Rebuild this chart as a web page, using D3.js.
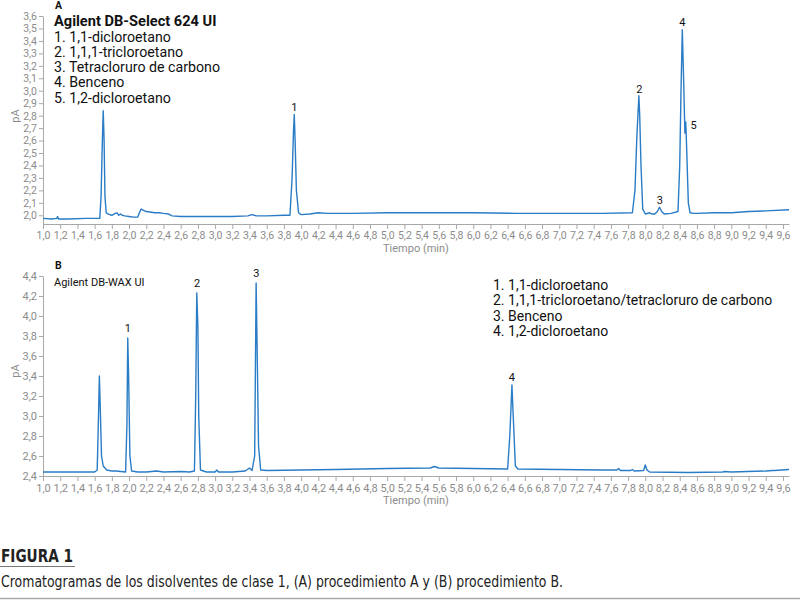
<!DOCTYPE html>
<html><head><meta charset="utf-8">
<script src="https://cdn.jsdelivr.net/npm/d3@7"></script>
<style>body{margin:0;background:#fff} svg{display:block}</style>
</head><body><svg id="c" width="800" height="600"></svg>
<script>
// ---------- Data: chromatogram A (DB-Select 624 UI) ----------
const timeA = [1.00,1.10,1.16,1.17,1.18,1.30,1.50,1.66,1.675,1.69,1.70,1.71,1.72,1.735,1.76,1.80,1.84,1.86,1.88,1.90,1.92,1.95,2.00,2.05,2.10,2.12,2.14,2.17,2.20,2.30,2.35,2.40,2.46,2.50,2.60,2.70,2.80,3.00,3.20,3.38,3.43,3.48,3.60,3.80,3.87,3.895,3.91,3.92,3.93,3.945,3.97,4.00,4.10,4.20,4.30,4.60,5.00,5.50,6.00,6.50,7.00,7.50,7.85,7.88,7.90,7.925,7.935,7.95,7.97,8.00,8.05,8.08,8.11,8.14,8.165,8.19,8.22,8.30,8.38,8.40,8.415,8.43,8.445,8.46,8.47,8.48,8.50,8.52,8.56,8.60,8.80,9.00,9.20,9.40,9.67];
const signalA = [1.975,1.97,1.975,1.99,1.97,1.97,1.975,1.975,2.15,2.6,2.84,2.6,2.15,2.02,2.01,2.0,2.015,2.02,2.0,2.01,2.0,1.995,1.99,1.985,1.985,2.02,2.05,2.04,2.03,2.02,2.02,2.015,2.01,1.995,1.99,1.99,1.99,1.99,1.99,1.995,2.005,1.995,1.995,2.0,2.0,2.3,2.65,2.81,2.6,2.2,2.02,2.005,2.01,2.02,2.015,2.015,2.02,2.02,2.02,2.015,2.015,2.015,2.02,2.2,2.6,2.96,2.8,2.4,2.05,2.01,2.02,2.01,2.01,2.03,2.065,2.03,2.01,2.015,2.03,2.4,3.0,3.49,3.1,2.66,2.75,2.55,2.1,2.02,2.015,2.015,2.02,2.02,2.03,2.035,2.045];
const labelTextA = ["1","2","3","4","5"];
const labelTimeA = [3.92,7.93,8.17,8.43,8.56];
const labelValueA = [2.837,2.982,2.09,3.52,2.69];
const legendTitleA = "Agilent DB-Select 624 UI";
const legendA = ["1. 1,1-dicloroetano","2. 1,1,1-tricloroetano","3. Tetracloruro de carbono","4. Benceno","5. 1,2-dicloroetano"];

// ---------- Data: chromatogram B (DB-WAX UI) ----------
const timeB = [1.00,1.30,1.60,1.63,1.645,1.655,1.665,1.68,1.70,1.74,1.80,1.85,1.96,1.975,1.985,1.995,2.01,2.03,2.10,2.20,2.32,2.40,2.60,2.70,2.76,2.775,2.787,2.80,2.81,2.83,2.90,3.00,3.02,3.04,3.20,3.35,3.40,3.43,3.46,3.477,3.49,3.505,3.53,3.60,4.00,4.40,5.00,5.50,5.55,5.60,6.00,6.40,6.425,6.45,6.465,6.49,6.52,7.00,7.50,7.67,7.69,7.71,7.83,7.85,7.87,7.98,8.00,8.02,8.05,8.50,8.90,8.92,9.00,9.40,9.48,9.50,9.67];
const signalB = [2.44,2.44,2.44,2.46,3.0,3.40,3.1,2.6,2.5,2.46,2.45,2.45,2.44,2.9,3.78,3.4,2.6,2.45,2.44,2.44,2.45,2.44,2.445,2.44,2.45,3.2,4.23,3.9,3.0,2.46,2.44,2.44,2.46,2.44,2.44,2.45,2.48,2.455,2.6,4.33,3.6,2.7,2.46,2.455,2.46,2.465,2.475,2.48,2.495,2.48,2.475,2.47,2.8,3.31,3.0,2.5,2.47,2.465,2.46,2.46,2.475,2.455,2.455,2.465,2.45,2.455,2.51,2.46,2.44,2.435,2.44,2.445,2.44,2.45,2.455,2.455,2.465];
const labelTextB = ["1","2","3","4"];
const labelTimeB = [1.985,2.79,3.48,6.45];
const labelValueB = [3.844,4.286,4.387,3.352];
const legendTitleB = "Agilent DB-WAX UI";
const legendB = ["1. 1,1-dicloroetano","2. 1,1,1-tricloroetano/tetracloruro de carbono","3. Benceno","4. 1,2-dicloroetano"];

// ---------- Axis ticks ----------
const xTicks = d3.range(0, 44).map(i => +(1.0 + i * 0.2).toFixed(1));
const yTicksA = d3.range(0, 17).map(i => +(2.0 + i * 0.1).toFixed(1));
const yTicksB = d3.range(0, 11).map(i => +(2.4 + i * 0.2).toFixed(1));
const xTitle = "Tiempo (min)";
const yTitle = "pA";
const figTitle = "FIGURA 1";
const caption = "Cromatogramas de los disolventes de clase 1, (A) procedimiento A y (B) procedimiento B.";

// ---------- Drawing ----------
const svg = d3.select("#c");
svg.append("rect").attr("width",800).attr("height",600).attr("fill","#fff");
const FONT = "Roboto, 'Noto Sans', sans-serif";
const LINE = "#2a7cc6";
const GRAY = "#8c8c8c";
const fmt = d => d.toFixed(1).replace(".", ",");

function panel(cfg) {
  const x = d3.scaleLinear().domain([1.0, 9.67]).range([43, 789]);
  const y = d3.scaleLinear().domain(cfg.yDomain).range([cfg.yBottom, cfg.yTop]);
  const g = svg.append("g");

  const xa = g.append("g").attr("transform", `translate(0,${cfg.yBottom})`)
    .call(d3.axisBottom(x).tickValues(xTicks).tickFormat(fmt).tickSizeOuter(0).tickSizeInner(5).tickPadding(3));
  const ya = g.append("g").attr("transform", `translate(43,0)`)
    .call(d3.axisLeft(y).tickValues(cfg.yTicks).tickFormat(fmt).tickSizeOuter(0).tickSizeInner(4).tickPadding(2));
  [xa, ya].forEach(a => {
    a.select(".domain").attr("stroke", "#a8a8a8");
    a.selectAll(".tick line").attr("stroke", "#a8a8a8");
    a.selectAll(".tick text").attr("fill", GRAY).attr("font-family", FONT).attr("font-size", cfg.tickFont);
  });

  g.append("text").attr("x", 416).attr("y", cfg.yBottom + 28).attr("text-anchor", "middle")
    .attr("font-family", FONT).attr("font-size", 11).attr("fill", GRAY).text(xTitle);
  g.append("text").attr("transform", `translate(19,${cfg.yLabelY}) rotate(-90)`).attr("text-anchor", "middle")
    .attr("font-family", FONT).attr("font-size", 11).attr("fill", GRAY).text(yTitle);

  const line = d3.line().x((d, i) => x(cfg.time[i])).y(d => y(d));
  g.append("path").datum(cfg.signal).attr("d", line).attr("fill", "none")
    .attr("stroke", LINE).attr("stroke-width", 1.4).attr("stroke-linejoin", "round");

  g.selectAll(".pl").data(cfg.labelText).enter().append("text")
    .attr("x", (d, i) => x(cfg.labelTime[i])).attr("y", (d, i) => y(cfg.labelValue[i]))
    .attr("text-anchor", "middle").attr("font-family", FONT).attr("font-size", 11).attr("fill", "#111").text(d => d);

  g.append("text").attr("x", 55).attr("y", cfg.letterY).attr("font-family", FONT).attr("font-weight", "bold")
    .attr("font-size", 10.5).attr("fill", "#111").text(cfg.letter);
  return g;
}

const gA = panel({time: timeA, signal: signalA, yDomain: [1.93, 3.6], yTop: 16, yBottom: 224,
  yTicks: yTicksA, tickFont: 10.5, labelText: labelTextA, labelTime: labelTimeA, labelValue: labelValueA,
  letter: "A", letterY: 9, yLabelY: 116});
const gB = panel({time: timeB, signal: signalB, yDomain: [2.4, 4.4], yTop: 276, yBottom: 476,
  yTicks: yTicksB, tickFont: 11, labelText: labelTextB, labelTime: labelTimeB, labelValue: labelValueB,
  letter: "B", letterY: 269, yLabelY: 371});

// Legend A
gA.append("text").attr("x", 54).attr("y", 26).attr("font-family", FONT).attr("font-weight", "bold")
  .attr("font-size", 14.6).attr("fill", "#111").text(legendTitleA);
gA.selectAll(".lg").data(legendA).enter().append("text")
  .attr("x", 54).attr("y", (d, i) => 41.5 + i * 15.3).attr("font-family", FONT).attr("font-size", 14.2)
  .attr("fill", "#111").text(d => d);

// Legend B
gB.append("text").attr("x", 54).attr("y", 286).attr("font-family", FONT).attr("font-size", 11)
  .attr("fill", "#111").text(legendTitleB);
gB.selectAll(".lg").data(legendB).enter().append("text")
  .attr("x", 493).attr("y", (d, i) => 290 + i * 15.4).attr("font-family", FONT).attr("font-size", 14)
  .attr("fill", "#111").text(d => d);

// Caption
const CAPF = "'Liberation Sans Narrow', 'DejaVu Sans Condensed', 'Roboto', sans-serif";
svg.append("text").attr("x", 1).attr("y", 562).attr("font-family", CAPF).attr("font-weight", "bold")
  .attr("font-size", 17).attr("fill", "#222").attr("textLength", 72).attr("lengthAdjust", "spacingAndGlyphs").text(figTitle);
svg.append("line").attr("x1", 0).attr("x2", 75).attr("y1", 566.5).attr("y2", 566.5).attr("stroke", "#777").attr("stroke-width", 1);
svg.append("text").attr("x", 1).attr("y", 587).attr("font-family", CAPF)
  .attr("font-size", 15).attr("fill", "#222").attr("textLength", 562).attr("lengthAdjust", "spacingAndGlyphs").text(caption);
svg.append("line").attr("x1", 0).attr("x2", 800).attr("y1", 598.5).attr("y2", 598.5).attr("stroke", "#aaa").attr("stroke-width", 1.5);
</script></body></html>
